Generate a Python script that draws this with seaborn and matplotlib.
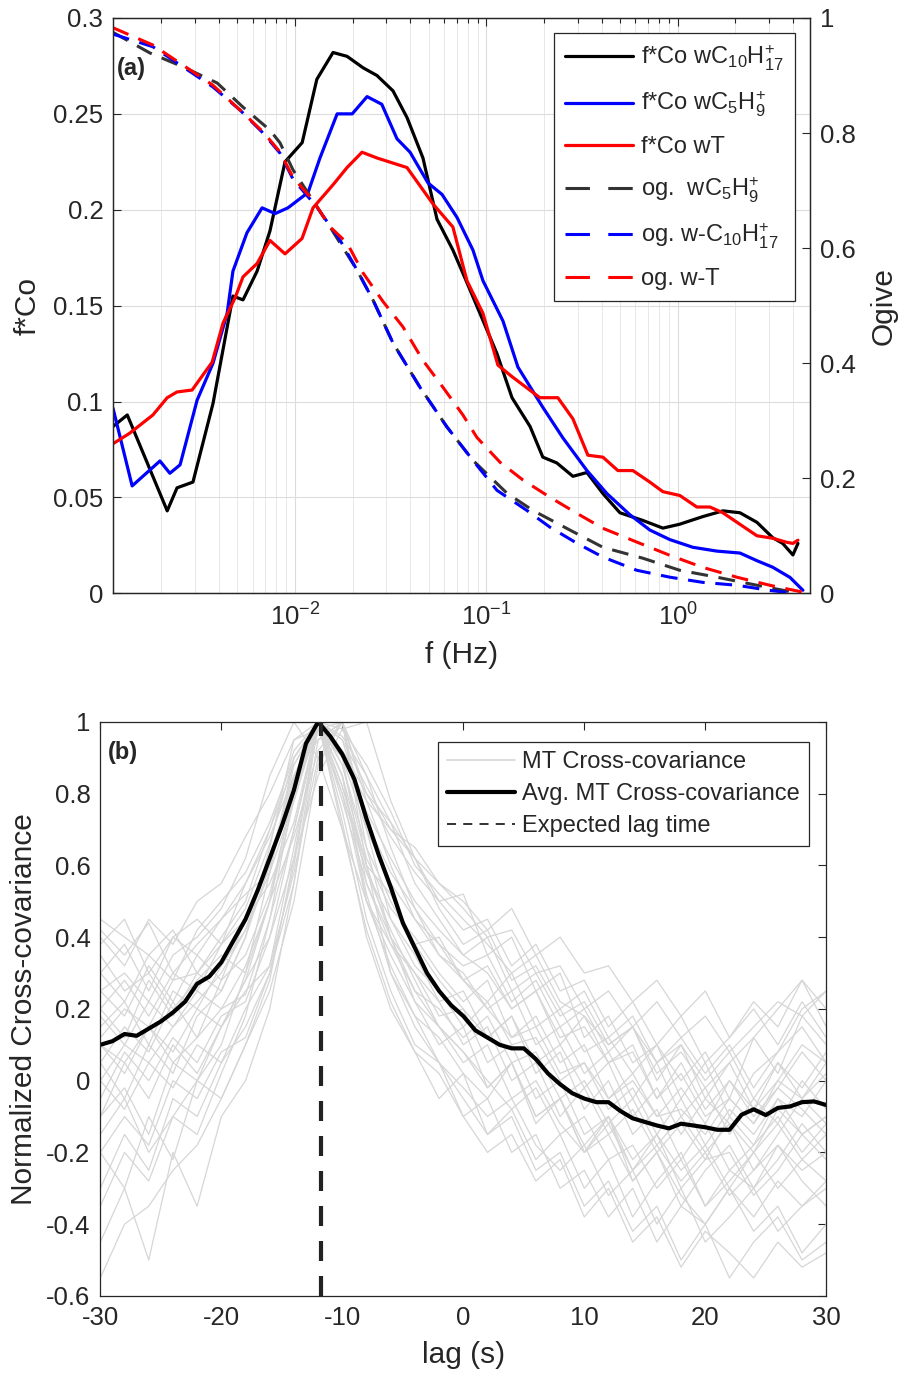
import numpy as np
import pandas as pd
import matplotlib
matplotlib.use("Agg")
import matplotlib.pyplot as plt
import seaborn as sns
from matplotlib.lines import Line2D
from matplotlib.ticker import LogLocator, FixedLocator, NullFormatter

# ---------------- Panel (a) data ----------------
# f*Co wC10H17+ (black solid)
f_c10 = [0.00112, 0.00133, 0.00215, 0.00242, 0.00293, 0.00373, 0.00474, 0.00535, 0.00634, 0.0074,
         0.00887, 0.0109, 0.0130, 0.0158, 0.0187, 0.0227, 0.0268, 0.0325, 0.0385, 0.0466,
         0.0552, 0.0668, 0.0791, 0.1135, 0.136, 0.169, 0.197, 0.233, 0.283, 0.335,
         0.406, 0.498, 0.656, 0.835, 1.02, 1.35, 1.72, 2.11, 2.59, 3.13,
         3.53, 3.99, 4.24]
co_c10 = [0.087, 0.093, 0.043, 0.055, 0.058, 0.099, 0.155, 0.153, 0.168, 0.189,
          0.225, 0.235, 0.268, 0.282, 0.280, 0.274, 0.270, 0.262, 0.248, 0.227,
          0.195, 0.179, 0.162, 0.125, 0.102, 0.087, 0.071, 0.068, 0.061, 0.063,
          0.052, 0.042, 0.038, 0.034, 0.036, 0.040, 0.043, 0.042, 0.037, 0.029,
          0.026, 0.020, 0.026]

# f*Co wC5H9+ (blue solid)
f_c5 = [0.00112, 0.00141, 0.00197, 0.00222, 0.00251, 0.00308, 0.00373, 0.00442, 0.00474, 0.00561,
        0.00673, 0.00787, 0.00919, 0.0117, 0.0135, 0.0166, 0.0199, 0.0238, 0.0284, 0.0341,
        0.0399, 0.0495, 0.0586, 0.0702, 0.0850, 0.0959, 0.122, 0.146, 0.197, 0.251,
        0.335, 0.426, 0.561, 0.714, 0.908, 1.197, 1.60, 2.11, 2.59, 3.13,
        3.85, 4.50]
co_c5 = [0.0965, 0.056, 0.069, 0.0626, 0.067, 0.1007, 0.120, 0.146, 0.168, 0.188,
         0.201, 0.198, 0.201, 0.209, 0.227, 0.250, 0.250, 0.259, 0.255, 0.237,
         0.230, 0.214, 0.208, 0.196, 0.179, 0.163, 0.142, 0.118, 0.097, 0.081,
         0.064, 0.052, 0.041, 0.033, 0.028, 0.024, 0.022, 0.021, 0.017, 0.0136,
         0.0083, 0.0016]

# f*Co wT (red solid)
f_T = [0.00112, 0.00137, 0.00181, 0.00215, 0.00242, 0.0029, 0.00369, 0.00421, 0.00486, 0.00535,
       0.00634, 0.0074, 0.00887, 0.01088, 0.01242, 0.01579, 0.0187, 0.02239, 0.02679, 0.03846,
       0.04387, 0.0526, 0.0668, 0.0791, 0.0959, 0.1148, 0.1359, 0.1902, 0.2361, 0.2829,
       0.3389, 0.4058, 0.4862, 0.5821, 0.7139, 0.8349, 1.024, 1.256, 1.47, 1.718,
       2.109, 2.589, 3.133, 3.706, 3.99, 4.238]
co_T = [0.078, 0.0835, 0.093, 0.102, 0.105, 0.106, 0.1205, 0.141, 0.154, 0.165,
        0.172, 0.184, 0.177, 0.185, 0.201, 0.213, 0.222, 0.230, 0.227, 0.222,
        0.214, 0.203, 0.191, 0.163, 0.146, 0.119, 0.113, 0.102, 0.102, 0.091,
        0.072, 0.071, 0.064, 0.064, 0.058, 0.053, 0.051, 0.045, 0.045, 0.042,
        0.036, 0.030, 0.0287, 0.0266, 0.026, 0.0277]

# ogive wC5H9+ (dark dashed)
f_og_c5 = [0.00112, 0.00175, 0.0026, 0.00392, 0.00535, 0.0074, 0.00835, 0.00976, 0.01523, 0.01718,
           0.02107, 0.02553, 0.03251, 0.04498, 0.06223, 0.08503, 0.128, 0.1749, 0.2728, 0.4058,
           0.6561, 1.024, 1.599, 2.589, 3.99]
og_c5 = [0.975, 0.939, 0.915, 0.887, 0.845, 0.805, 0.783, 0.736, 0.637, 0.609,
         0.562, 0.510, 0.435, 0.358, 0.289, 0.231, 0.174, 0.144, 0.110, 0.080,
         0.061, 0.040, 0.028, 0.014, 0.002]

# ogive w-C10H17+ (blue dashed)
f_og_c10 = [0.00112, 0.00181, 0.0026, 0.00373, 0.00516, 0.00681, 0.00835, 0.00976, 0.01303, 0.01718,
            0.02107, 0.02553, 0.03251, 0.04498, 0.06223, 0.08503, 0.1135, 0.1627, 0.2146, 0.2969,
            0.4058, 0.6107, 0.9083, 1.351, 2.033, 3.021, 3.845]
og_c10 = [0.972, 0.950, 0.915, 0.880, 0.840, 0.800, 0.765, 0.720, 0.671, 0.614,
          0.562, 0.510, 0.435, 0.358, 0.289, 0.231, 0.179, 0.144, 0.115, 0.087,
          0.063, 0.040, 0.028, 0.019, 0.014, 0.005, 0.001]

# ogive w-T (red dashed)
f_og_T = [0.00112, 0.00181, 0.0026, 0.00373, 0.00516, 0.00681, 0.00835, 0.00976, 0.01242, 0.01523,
          0.0187, 0.02265, 0.02884, 0.03664, 0.04656, 0.05929, 0.07534, 0.08912, 0.1176, 0.1551,
          0.2146, 0.2969, 0.4058, 0.6107, 0.9083, 1.351, 2.033, 3.021, 4.497]
og_T = [0.983, 0.953, 0.918, 0.883, 0.840, 0.802, 0.767, 0.723, 0.683, 0.637,
        0.609, 0.557, 0.507, 0.463, 0.405, 0.358, 0.310, 0.271, 0.228, 0.197,
        0.167, 0.139, 0.113, 0.089, 0.066, 0.045, 0.028, 0.014, 0.002]

labels_a = [r"f*Co wC$_{10}$H$_{17}^{+}$", r"f*Co wC$_{5}$H$_{9}^{+}$", "f*Co wT",
            r"og.  wC$_{5}$H$_{9}^{+}$", r"og. w-C$_{10}$H$_{17}^{+}$", "og. w-T"]
yticks_left = [0, 0.05, 0.1, 0.15, 0.2, 0.25, 0.3]
yticklabels_left = ["0", "0.05", "0.1", "0.15", "0.2", "0.25", "0.3"]
yticks_right = [0, 0.2, 0.4, 0.6, 0.8, 1]
yticklabels_right = ["0", "0.2", "0.4", "0.6", "0.8", "1"]

# ---------------- Panel (b) data ----------------
lag_avg = [-30, -29, -28, -27, -26, -25, -24, -23, -22, -21, -20, -19, -18, -17, -16, -15, -14, -13, -12, -11,
           -10, -9, -8, -7, -6, -5, -4, -3, -2, -1, 0, 1, 2, 3, 4, 5, 6, 7, 8, 9,
           10, 11, 12, 13, 14, 15, 16, 17, 18, 19, 20, 21, 22, 23, 24, 25, 26, 27, 28, 29, 30]
avg_cc = [0.10, 0.11, 0.13, 0.125, 0.145, 0.165, 0.19, 0.22, 0.27, 0.29,
          0.33, 0.39, 0.45, 0.53, 0.62, 0.71, 0.81, 0.94, 1.00, 0.96,
          0.91, 0.84, 0.73, 0.63, 0.54, 0.44, 0.37, 0.30, 0.25, 0.21,
          0.18, 0.14, 0.12, 0.10, 0.09, 0.09, 0.06, 0.02, -0.01, -0.035,
          -0.05, -0.06, -0.06, -0.085, -0.105, -0.115, -0.125, -0.133, -0.12, -0.125,
          -0.13, -0.137, -0.137, -0.095, -0.08, -0.096, -0.076, -0.072, -0.06, -0.058, -0.068]
expected_lag = -11.8

lag_gray = [-30, -28, -26, -24, -22, -20, -18, -16, -14, -12, -10, -8, -6, -4, -2, 0,
            2, 4, 6, 8, 10, 12, 14, 16, 18, 20, 22, 24, 26, 28, 30]
gray_01 = [0.42, 0.35, 0.44, 0.30, 0.38, 0.45, 0.52, 0.58, 0.78, 1.00, 0.82, 0.60, 0.52, 0.38, 0.40, 0.28,
           0.22, 0.30, 0.15, 0.20, 0.08, 0.12, 0.02, 0.10, -0.05, 0.05, -0.10, 0.02, 0.08, 0.20, 0.25]
gray_02 = [0.10, 0.02, 0.15, 0.05, 0.12, 0.20, 0.24, 0.45, 0.70, 0.98, 0.90, 0.55, 0.40, 0.30, 0.18, 0.20,
           0.05, 0.10, -0.05, 0.00, -0.15, -0.10, -0.22, -0.15, -0.25, -0.18, -0.30, -0.20, -0.12, -0.22, -0.15]
gray_03 = [-0.30, -0.15, -0.25, -0.05, -0.10, 0.05, 0.15, 0.30, 0.60, 1.00, 0.75, 0.45, 0.25, 0.10, 0.05, -0.10,
           -0.05, -0.20, -0.15, -0.30, -0.25, -0.38, -0.30, -0.45, -0.35, -0.40, -0.30, -0.42, -0.35, -0.48, -0.40]
gray_04 = [0.30, 0.38, 0.25, 0.40, 0.45, 0.38, 0.55, 0.68, 0.85, 0.95, 1.00, 0.80, 0.72, 0.62, 0.50, 0.52,
           0.35, 0.40, 0.25, 0.30, 0.12, 0.18, 0.05, 0.10, 0.00, 0.08, -0.05, 0.12, 0.20, 0.28, 0.15]
gray_05 = [-0.10, 0.05, -0.05, 0.10, 0.02, 0.15, 0.25, 0.32, 0.58, 0.90, 1.00, 0.70, 0.45, 0.35, 0.22, 0.10,
           0.15, 0.00, 0.05, -0.10, -0.02, -0.15, -0.08, -0.20, -0.12, -0.22, -0.10, -0.18, -0.05, -0.15, -0.10]
gray_06 = [0.20, 0.12, 0.28, 0.18, 0.30, 0.25, 0.40, 0.60, 0.84, 1.00, 0.88, 0.62, 0.48, 0.40, 0.30, 0.22,
           0.28, 0.12, 0.18, 0.05, 0.10, -0.05, 0.02, -0.10, -0.02, -0.12, 0.00, -0.08, 0.05, -0.05, 0.02]
gray_07 = [-0.45, -0.30, -0.50, -0.20, -0.35, -0.10, 0.00, 0.20, 0.55, 0.95, 1.00, 0.60, 0.30, 0.15, 0.05, -0.05,
           -0.15, -0.10, -0.25, -0.20, -0.35, -0.28, -0.42, -0.35, -0.50, -0.40, -0.55, -0.45, -0.38, -0.50, -0.45]
gray_08 = [0.05, 0.15, 0.08, 0.22, 0.12, 0.28, 0.35, 0.52, 0.80, 1.00, 0.95, 0.72, 0.58, 0.48, 0.35, 0.30,
           0.20, 0.25, 0.10, 0.15, 0.02, 0.08, -0.05, 0.05, -0.10, -0.02, -0.15, -0.05, -0.12, 0.00, -0.08]
gray_09 = [0.35, 0.25, 0.30, 0.20, 0.28, 0.35, 0.30, 0.50, 0.68, 0.92, 1.00, 0.85, 0.65, 0.48, 0.38, 0.32,
           0.35, 0.22, 0.28, 0.15, 0.20, 0.08, 0.15, 0.00, 0.10, -0.05, 0.05, 0.12, 0.02, 0.18, 0.10]
gray_10 = [-0.20, -0.10, -0.18, 0.00, -0.05, 0.08, 0.12, 0.30, 0.55, 1.00, 0.80, 0.50, 0.32, 0.18, 0.12, 0.02,
           -0.05, 0.05, -0.12, -0.05, -0.20, -0.12, -0.25, -0.15, -0.30, -0.22, -0.20, -0.32, -0.25, -0.15, -0.22]
gray_11 = [0.15, 0.22, 0.10, 0.25, 0.20, 0.32, 0.42, 0.58, 0.88, 1.00, 0.78, 0.55, 0.38, 0.25, 0.20, 0.12,
           0.18, 0.05, 0.08, -0.05, 0.00, -0.12, -0.05, -0.18, -0.10, -0.20, -0.12, -0.25, -0.15, -0.05, -0.12]
gray_12 = [0.00, -0.08, 0.05, -0.02, 0.10, 0.05, 0.20, 0.32, 0.65, 0.98, 1.00, 0.78, 0.60, 0.45, 0.35, 0.28,
           0.20, 0.12, 0.15, 0.02, 0.05, -0.08, -0.02, -0.15, -0.05, -0.18, -0.08, -0.15, -0.05, -0.10, 0.00]
gray_13 = [0.45, 0.40, 0.35, 0.42, 0.30, 0.38, 0.45, 0.55, 0.72, 1.00, 0.90, 0.78, 0.70, 0.62, 0.55, 0.48,
           0.40, 0.42, 0.30, 0.32, 0.20, 0.25, 0.15, 0.22, 0.12, 0.18, 0.08, 0.15, 0.22, 0.18, 0.25]
gray_14 = [-0.05, 0.08, 0.00, 0.12, 0.05, 0.18, 0.22, 0.40, 0.70, 1.00, 0.85, 0.50, 0.35, 0.22, 0.15, 0.08,
           0.00, -0.08, -0.02, -0.15, -0.10, -0.22, -0.18, -0.30, -0.22, -0.35, -0.28, -0.20, -0.30, -0.22, -0.28]
gray_15 = [0.25, 0.18, 0.32, 0.22, 0.35, 0.28, 0.45, 0.60, 0.82, 1.00, 0.92, 0.75, 0.62, 0.50, 0.42, 0.35,
           0.40, 0.25, 0.30, 0.18, 0.22, 0.10, 0.15, 0.05, 0.12, 0.02, 0.10, -0.02, 0.08, 0.15, 0.05]
gray_16 = [-0.15, -0.05, -0.20, -0.10, 0.00, -0.05, 0.10, 0.25, 0.50, 0.88, 1.00, 0.65, 0.40, 0.22, 0.10, 0.15,
           -0.02, 0.05, -0.10, -0.05, -0.18, -0.10, -0.25, -0.18, -0.28, -0.20, -0.32, -0.25, -0.18, -0.25, -0.20]
gray_17 = [0.18, 0.10, 0.22, 0.15, 0.25, 0.20, 0.32, 0.50, 0.78, 1.00, 0.82, 0.58, 0.45, 0.32, 0.25, 0.15,
           0.22, 0.10, 0.12, 0.00, 0.05, -0.05, 0.00, -0.10, -0.08, -0.15, -0.05, -0.12, -0.02, -0.08, -0.15]
gray_18 = [-0.55, -0.40, -0.35, -0.25, -0.18, -0.05, 0.10, 0.28, 0.62, 1.00, 0.70, 0.42, 0.22, 0.08, 0.02, -0.10,
           -0.20, -0.15, -0.28, -0.22, -0.38, -0.30, -0.45, -0.38, -0.52, -0.42, -0.48, -0.55, -0.45, -0.52, -0.48]
gray_19 = [0.25, 0.30, 0.22, 0.35, 0.40, 0.48, 0.62, 0.85, 1.00, 0.90, 0.70, 0.50, 0.38, 0.30, 0.22, 0.25,
           0.12, 0.18, 0.05, 0.10, -0.02, 0.05, -0.10, -0.02, -0.15, -0.05, -0.12, -0.20, -0.08, -0.15, -0.10]
gray_20 = [0.40, 0.32, 0.45, 0.38, 0.50, 0.55, 0.68, 0.80, 0.95, 1.00, 0.92, 0.80, 0.68, 0.58, 0.50, 0.42,
           0.45, 0.32, 0.38, 0.25, 0.28, 0.15, 0.22, 0.10, 0.18, 0.05, 0.12, 0.20, 0.10, 0.22, 0.12]
gray_21 = [-0.20, -0.30, -0.10, -0.22, 0.00, 0.10, 0.30, 0.58, 0.90, 1.00, 0.72, 0.40, 0.20, 0.08, -0.05, 0.02,
           -0.15, -0.08, -0.22, -0.15, -0.30, -0.22, -0.38, -0.28, -0.20, -0.35, -0.25, -0.30, -0.18, -0.28, -0.35]
gray_22 = [0.12, 0.20, 0.15, 0.28, 0.30, 0.40, 0.50, 0.70, 0.92, 1.00, 0.96, 0.85, 0.72, 0.55, 0.45, 0.35,
           0.30, 0.20, 0.25, 0.12, 0.15, 0.05, 0.08, -0.05, 0.02, -0.10, -0.05, -0.12, 0.00, -0.05, 0.05]
gray_23 = [0.05, -0.05, 0.10, 0.02, 0.18, 0.25, 0.40, 0.65, 0.95, 0.98, 0.80, 0.58, 0.42, 0.28, 0.15, 0.05,
           0.10, -0.05, 0.00, -0.12, -0.20, -0.10, -0.28, -0.20, -0.35, -0.25, -0.18, -0.30, -0.22, -0.12, -0.20]
gray_24 = [0.30, 0.22, 0.35, 0.28, 0.42, 0.50, 0.58, 0.72, 0.90, 1.00, 0.98, 0.88, 0.75, 0.60, 0.52, 0.45,
           0.38, 0.30, 0.35, 0.22, 0.18, 0.10, 0.15, 0.02, 0.08, -0.02, 0.05, -0.08, 0.00, 0.10, 0.05]
gray_25 = [-0.35, -0.20, -0.28, -0.10, -0.15, 0.02, 0.18, 0.45, 0.80, 1.00, 0.85, 0.52, 0.30, 0.18, 0.05, -0.02,
           -0.10, -0.05, -0.18, -0.25, -0.18, -0.32, -0.25, -0.40, -0.30, -0.45, -0.38, -0.30, -0.42, -0.35, -0.28]
gray_26 = [0.20, 0.28, 0.18, 0.30, 0.25, 0.38, 0.48, 0.66, 0.90, 1.00, 0.90, 0.70, 0.55, 0.45, 0.38, 0.28,
           0.32, 0.20, 0.25, 0.10, 0.18, 0.05, 0.10, -0.05, 0.05, -0.08, 0.00, -0.10, -0.02, 0.08, 0.00]
gray_27 = [0.10, 0.05, 0.15, 0.08, 0.20, 0.15, 0.28, 0.40, 0.62, 0.85, 0.98, 1.00, 0.78, 0.62, 0.48, 0.38,
           0.42, 0.28, 0.32, 0.20, 0.25, 0.12, 0.18, 0.05, 0.10, 0.00, 0.08, -0.05, 0.05, -0.02, 0.08]
gray_28 = [0.00, 0.10, 0.05, 0.15, 0.22, 0.30, 0.42, 0.62, 0.85, 1.00, 0.88, 0.65, 0.50, 0.38, 0.28, 0.20,
           0.12, 0.18, 0.02, 0.08, -0.08, 0.00, -0.15, -0.08, -0.22, -0.12, -0.25, -0.18, -0.10, -0.20, -0.12]
gray_29 = [0.38, 0.45, 0.30, 0.40, 0.35, 0.45, 0.55, 0.70, 0.88, 1.00, 0.95, 0.82, 0.70, 0.65, 0.55, 0.50,
           0.42, 0.48, 0.35, 0.40, 0.30, 0.32, 0.22, 0.28, 0.18, 0.25, 0.12, 0.22, 0.15, 0.28, 0.20]
gray_30 = [-0.10, -0.02, -0.15, 0.05, 0.00, 0.15, 0.28, 0.50, 0.82, 1.00, 0.85, 0.60, 0.40, 0.25, 0.15, 0.08,
           -0.02, 0.05, -0.10, -0.05, -0.20, -0.15, -0.28, -0.20, -0.32, -0.40, -0.30, -0.38, -0.28, -0.35, -0.30]
gray_curves = [gray_01, gray_02, gray_03, gray_04, gray_05, gray_06, gray_07, gray_08, gray_09, gray_10,
               gray_11, gray_12, gray_13, gray_14, gray_15, gray_16, gray_17, gray_18, gray_19, gray_20,
               gray_21, gray_22, gray_23, gray_24, gray_25, gray_26, gray_27, gray_28, gray_29, gray_30]

labels_b = ["MT Cross-covariance", "Avg. MT Cross-covariance", "Expected lag time"]
xticks_b = [-30, -20, -10, 0, 10, 20, 30]
yticks_b = [-0.6, -0.4, -0.2, 0, 0.2, 0.4, 0.6, 0.8, 1]
yticklabels_b = ["-0.6", "-0.4", "-0.2", "0", "0.2", "0.4", "0.6", "0.8", "1"]

# ---------------- style ----------------
sns.set_style("white")
plt.rcParams["font.family"] = ["Liberation Sans", "DejaVu Sans"]
plt.rcParams["mathtext.fontset"] = "custom"
plt.rcParams["mathtext.rm"] = "Liberation Sans"
plt.rcParams["mathtext.it"] = "Liberation Sans:italic"
plt.rcParams["mathtext.bf"] = "Liberation Sans:bold"
plt.rcParams["mathtext.default"] = "regular"

AX_COL = "#262626"
TICK_FS = 18.5
LABEL_FS = 21.5
LEG_FS = 17

fig = plt.figure(figsize=(9.04, 13.83), dpi=100)

# ================= Panel (a) =================
axA = fig.add_axes([0.125, 0.571, 0.771, 0.416])
axA.set_xscale("log")
axA2 = axA.twinx()

LW = 2.3
sns.lineplot(x=f_c10, y=co_c10, ax=axA, color="black", lw=LW, estimator=None, sort=False)
sns.lineplot(x=f_c5, y=co_c5, ax=axA, color="#0000ff", lw=LW, estimator=None, sort=False)
sns.lineplot(x=f_T, y=co_T, ax=axA, color="#ff0000", lw=LW, estimator=None, sort=False)

dash_a = (5.5, 3.5)
for fx, oy, col in [(f_og_c5, og_c5, "#333333"), (f_og_c10, og_c10, "#0000ff"), (f_og_T, og_T, "#ff0000")]:
    sns.lineplot(x=fx, y=oy, ax=axA2, color=col, lw=2.2, estimator=None, sort=False)
    axA2.lines[-1].set_dashes(dash_a)

axA.set_xlim(0.00112, 4.9)
axA.set_ylim(0, 0.3)
axA2.set_ylim(0, 1)
axA.xaxis.set_major_locator(FixedLocator([0.01, 0.1, 1]))
axA.xaxis.set_minor_locator(LogLocator(base=10, subs=np.arange(2, 10), numticks=20))
axA.xaxis.set_minor_formatter(NullFormatter())
axA.set_yticks(yticks_left)
axA.set_yticklabels(yticklabels_left)
axA2.set_yticks(yticks_right)
axA2.set_yticklabels(yticklabels_right)

axA.grid(True, which="major", axis="both", color="#dcdcdc", lw=0.8)
axA.grid(True, which="minor", axis="x", color="#e8e8e8", lw=0.7)
axA.set_axisbelow(True)

axA.tick_params(axis="both", which="both", direction="in", colors=AX_COL, labelsize=TICK_FS,
                top=True, right=False, width=0.8)
axA.tick_params(which="major", length=6, pad=7)
axA.tick_params(which="minor", length=3.5)
axA2.tick_params(axis="y", direction="in", colors=AX_COL, labelsize=TICK_FS, length=6, width=0.8, pad=7)
for ax in (axA, axA2):
    for sp in ax.spines.values():
        sp.set_color(AX_COL)
        sp.set_linewidth(0.9)

axA.set_xlabel("f (Hz)", fontsize=LABEL_FS, color=AX_COL, labelpad=8)
axA.set_ylabel("f*Co", fontsize=LABEL_FS, color=AX_COL, labelpad=8)
axA2.set_ylabel("Ogive", fontsize=LABEL_FS, color=AX_COL, labelpad=10)
axA.text(0.006, 0.913, "(a)", transform=axA.transAxes, fontsize=17, fontweight="bold",
         ha="left", va="center", color=AX_COL)

for ax in (axA, axA2):
    if ax.get_legend() is not None:
        ax.get_legend().remove()

leg_dash = (8, 6)
handles_a = [
    Line2D([], [], color="black", lw=LW),
    Line2D([], [], color="#0000ff", lw=LW),
    Line2D([], [], color="#ff0000", lw=LW),
    Line2D([], [], color="#333333", lw=2.2, dashes=leg_dash),
    Line2D([], [], color="#0000ff", lw=2.2, dashes=leg_dash),
    Line2D([], [], color="#ff0000", lw=2.2, dashes=leg_dash),
]
legA = axA2.legend(handles_a, labels_a, loc="upper right", bbox_to_anchor=(0.978, 0.974),
                   borderaxespad=0, fontsize=LEG_FS, frameon=True, fancybox=False, framealpha=1,
                   edgecolor=AX_COL, handlelength=2.9, handletextpad=0.35, labelspacing=0.72,
                   borderpad=0.45)
legA.get_frame().set_linewidth(0.9)

# ================= Panel (b) =================
axB = fig.add_axes([0.111, 0.063, 0.803, 0.415])

rows = []
for cid, curve in enumerate(gray_curves):
    for lg, v in zip(lag_gray, curve):
        rows.append({"lag": lg, "val": v, "cid": cid})
df_gray = pd.DataFrame(rows)

sns.lineplot(data=df_gray, x="lag", y="val", units="cid", estimator=None, color="#d6d6d6",
             lw=0.9, ax=axB, legend=False)
sns.lineplot(x=lag_avg, y=avg_cc, ax=axB, color="black", lw=3.0, estimator=None, sort=False)
axB.axvline(expected_lag, color="#222222", lw=3.0, ls=(0, (4.8, 3.6)))
if axB.get_legend() is not None:
    axB.get_legend().remove()

axB.set_xlim(-30, 30)
axB.set_ylim(-0.6, 1)
axB.set_xticks(xticks_b)
axB.set_xticklabels([str(v) for v in xticks_b])
axB.set_yticks(yticks_b)
axB.set_yticklabels(yticklabels_b)
axB.tick_params(axis="both", which="both", direction="in", colors=AX_COL, labelsize=TICK_FS,
                top=True, right=True, length=6, width=0.8, pad=7)
for sp in axB.spines.values():
    sp.set_color(AX_COL)
    sp.set_linewidth(0.9)
axB.set_xlabel("lag (s)", fontsize=LABEL_FS, color=AX_COL, labelpad=8)
axB.set_ylabel("Normalized Cross-covariance", fontsize=LABEL_FS, color=AX_COL, labelpad=6)
axB.text(0.011, 0.946, "(b)", transform=axB.transAxes, fontsize=17, fontweight="bold",
         ha="left", va="center", color=AX_COL)

handles_b = [
    Line2D([], [], color="#d6d6d6", lw=1.2),
    Line2D([], [], color="black", lw=3.0),
    Line2D([], [], color="#222222", lw=1.3, dashes=(5, 4)),
]
legB = axB.legend(handles_b, labels_b, loc="upper right", bbox_to_anchor=(0.976, 0.965),
                  borderaxespad=0, fontsize=LEG_FS, frameon=True, fancybox=False, framealpha=1,
                  edgecolor=AX_COL, handlelength=2.9, handletextpad=0.3, labelspacing=0.42,
                  borderpad=0.38)
legB.get_frame().set_linewidth(0.9)

fig.savefig("out.png", dpi=100)
